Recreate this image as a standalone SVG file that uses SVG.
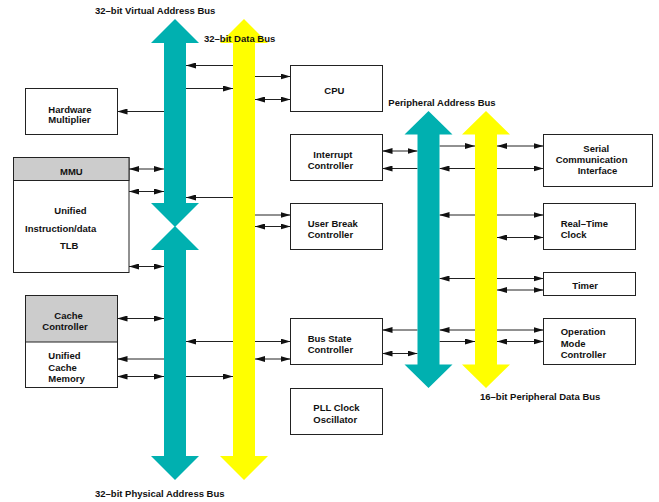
<svg xmlns="http://www.w3.org/2000/svg" width="659" height="502" viewBox="0 0 659 502">
<style>
text{font-family:"Liberation Sans",Arial,sans-serif;font-size:9.5px;font-weight:bold;fill:#111}
.box{fill:#fff;stroke:#222;stroke-width:1}
.hdr{fill:#cccccc;stroke:#222;stroke-width:1}
.teal{fill:#00B0B0}
.yel{fill:#FFFF00}
#connectors line{stroke:#222;stroke-width:1}
.e{marker-end:url(#ah)}
.b{marker-start:url(#ah);marker-end:url(#ah)}
</style>
<defs>
<marker id="ah" markerUnits="userSpaceOnUse" markerWidth="10" markerHeight="6" refX="10" refY="3" orient="auto-start-reverse">
<path d="M0,0 L10,3 L0,6 z" fill="#111"/>
</marker>
</defs>
<rect width="659" height="502" fill="#fff"/>

<g id="connectors">
<line class="e" x1="233" y1="65.5" x2="186" y2="65.5"/>
<line class="e" x1="186" y1="88.5" x2="233" y2="88.5"/>
<line class="e" x1="164" y1="111.5" x2="117.5" y2="111.5"/>
<line class="e" x1="255" y1="76.5" x2="290.5" y2="76.5"/>
<line class="b" x1="255" y1="99.5" x2="290.5" y2="99.5"/>
<line class="b" x1="129" y1="169" x2="164" y2="169"/>
<line class="b" x1="129" y1="191.5" x2="164" y2="191.5"/>
<line class="e" x1="233" y1="197.5" x2="186" y2="197.5"/>
<line class="e" x1="255" y1="215" x2="290.5" y2="215"/>
<line class="b" x1="255" y1="226.5" x2="290.5" y2="226.5"/>
<line class="b" x1="129" y1="266.5" x2="164" y2="266.5"/>
<line class="b" x1="117.5" y1="318.5" x2="164" y2="318.5"/>
<line class="b" x1="186" y1="341.5" x2="290.5" y2="341.5"/>
<line class="e" x1="164" y1="359" x2="117.5" y2="359"/>
<line class="b" x1="255" y1="359" x2="290.5" y2="359"/>
<line class="b" x1="117.5" y1="376.5" x2="164" y2="376.5"/>
<line class="e" x1="186" y1="376.5" x2="233" y2="376.5"/>

<line class="e" x1="439.5" y1="146" x2="475" y2="146"/>
<line class="b" x1="497" y1="146" x2="543.5" y2="146"/>
<line class="b" x1="382.5" y1="151" x2="417.5" y2="151"/>
<line class="e" x1="417.5" y1="168.5" x2="382.5" y2="168.5"/>
<line class="e" x1="475" y1="168.5" x2="439.5" y2="168.5"/>
<line class="e" x1="497" y1="168.5" x2="543.5" y2="168.5"/>
<line class="e" x1="475" y1="215" x2="439.5" y2="215"/>
<line class="e" x1="497" y1="215" x2="543.5" y2="215"/>
<line class="b" x1="497" y1="237.5" x2="543.5" y2="237.5"/>
<line class="e" x1="475" y1="278.5" x2="439.5" y2="278.5"/>
<line class="e" x1="497" y1="278.5" x2="543.5" y2="278.5"/>
<line class="b" x1="497" y1="290" x2="543.5" y2="290"/>
<line class="e" x1="417.5" y1="330" x2="382.5" y2="330"/>
<line class="e" x1="475" y1="330" x2="439.5" y2="330"/>
<line class="e" x1="497" y1="330" x2="543.5" y2="330"/>
<line class="e" x1="439.5" y1="341.5" x2="475" y2="341.5"/>
<line class="b" x1="497" y1="341.5" x2="543.5" y2="341.5"/>
<line class="b" x1="382.5" y1="353.5" x2="417.5" y2="353.5"/>
</g>

<g id="bus-virtual">
<polygon class="teal" points="175,19 199,43 186,43 186,203 199,203 175,227 151,203 164,203 164,43 151,43"/>
<text x="95" y="14">32–bit Virtual Address Bus</text>
</g>
<g id="bus-physical">
<polygon class="teal" points="175,226 199,250 186,250 186,456 199,456 175,480 151,456 164,456 164,250 151,250"/>
<text x="95" y="496.5">32–bit Physical Address Bus</text>
</g>
<g id="bus-data">
<polygon class="yel" points="244,19 268,43 255,43 255,456 268,456 244,480 220,456 233,456 233,43 220,43"/>
<text x="204" y="41.7">32–bit Data Bus</text>
</g>
<g id="bus-periph-addr">
<polygon class="teal" points="428.5,111 452.5,134.5 439.5,134.5 439.5,364.5 452.5,364.5 428.5,388 404.5,364.5 417.5,364.5 417.5,134.5 404.5,134.5"/>
<text x="388.3" y="105.5">Peripheral Address Bus</text>
</g>
<g id="bus-periph-data">
<polygon class="yel" points="486,111 510,134.5 497,134.5 497,364.5 510,364.5 486,388 462,364.5 475,364.5 475,134.5 462,134.5"/>
<text x="480" y="400">16–bit Peripheral Data Bus</text>
</g>

<g id="hardware-multiplier">
<rect class="box" x="25.5" y="88.5" width="92" height="46"/>
<text x="48.3" y="112.5">Hardware</text>
<text x="48.3" y="123">Multiplier</text>
</g>
<g id="mmu">
<rect class="box" x="13.5" y="157.5" width="115.5" height="115"/>
<rect class="hdr" x="13.5" y="157.5" width="115.5" height="23"/>
<text x="60" y="175">MMU</text>
<text x="54.3" y="214.3">Unified</text>
<text x="25" y="231.7">Instruction/data</text>
<text x="60" y="249.3">TLB</text>
</g>
<g id="cache">
<rect class="box" x="25.5" y="295.5" width="92" height="92"/>
<rect class="hdr" x="25.5" y="295.5" width="92" height="46.5"/>
<text x="54.3" y="319">Cache</text>
<text x="42.3" y="330">Controller</text>
<text x="48.3" y="359">Unified</text>
<text x="48.3" y="370.5">Cache</text>
<text x="48.3" y="381.5">Memory</text>
</g>
<g id="cpu">
<rect class="box" x="290.5" y="65.5" width="92" height="46"/>
<text x="324.3" y="94">CPU</text>
</g>
<g id="interrupt-controller">
<rect class="box" x="290.5" y="134.5" width="92" height="46"/>
<text x="313.3" y="157.7">Interrupt</text>
<text x="307.7" y="168.5">Controller</text>
</g>
<g id="user-break-controller">
<rect class="box" x="290.5" y="203.5" width="92" height="46"/>
<text x="307.7" y="226.7">User Break</text>
<text x="307.7" y="237.7">Controller</text>
</g>
<g id="bus-state-controller">
<rect class="box" x="290.5" y="318.5" width="92" height="46"/>
<text x="307.7" y="341.7">Bus State</text>
<text x="307.7" y="352.5">Controller</text>
</g>
<g id="pll">
<rect class="box" x="290.5" y="388.5" width="92" height="46"/>
<text x="313.3" y="410.7">PLL Clock</text>
<text x="313.3" y="422.7">Oscillator</text>
</g>
<g id="sci">
<rect class="box" x="543.5" y="134.5" width="109" height="52"/>
<text x="583.3" y="151.7">Serial</text>
<text x="555.7" y="162.7">Communication</text>
<text x="577.7" y="174">Interface</text>
</g>
<g id="rtc">
<rect class="box" x="543.5" y="203.5" width="92" height="46"/>
<text x="560.7" y="226.7">Real–Time</text>
<text x="560.7" y="237.7">Clock</text>
</g>
<g id="timer">
<rect class="box" x="543.5" y="272.5" width="92" height="23"/>
<text x="572.3" y="289">Timer</text>
</g>
<g id="omc">
<rect class="box" x="543.5" y="318.5" width="92" height="46"/>
<text x="560.7" y="335">Operation</text>
<text x="560.7" y="347.3">Mode</text>
<text x="560.7" y="358.3">Controller</text>
</g>
</svg>
